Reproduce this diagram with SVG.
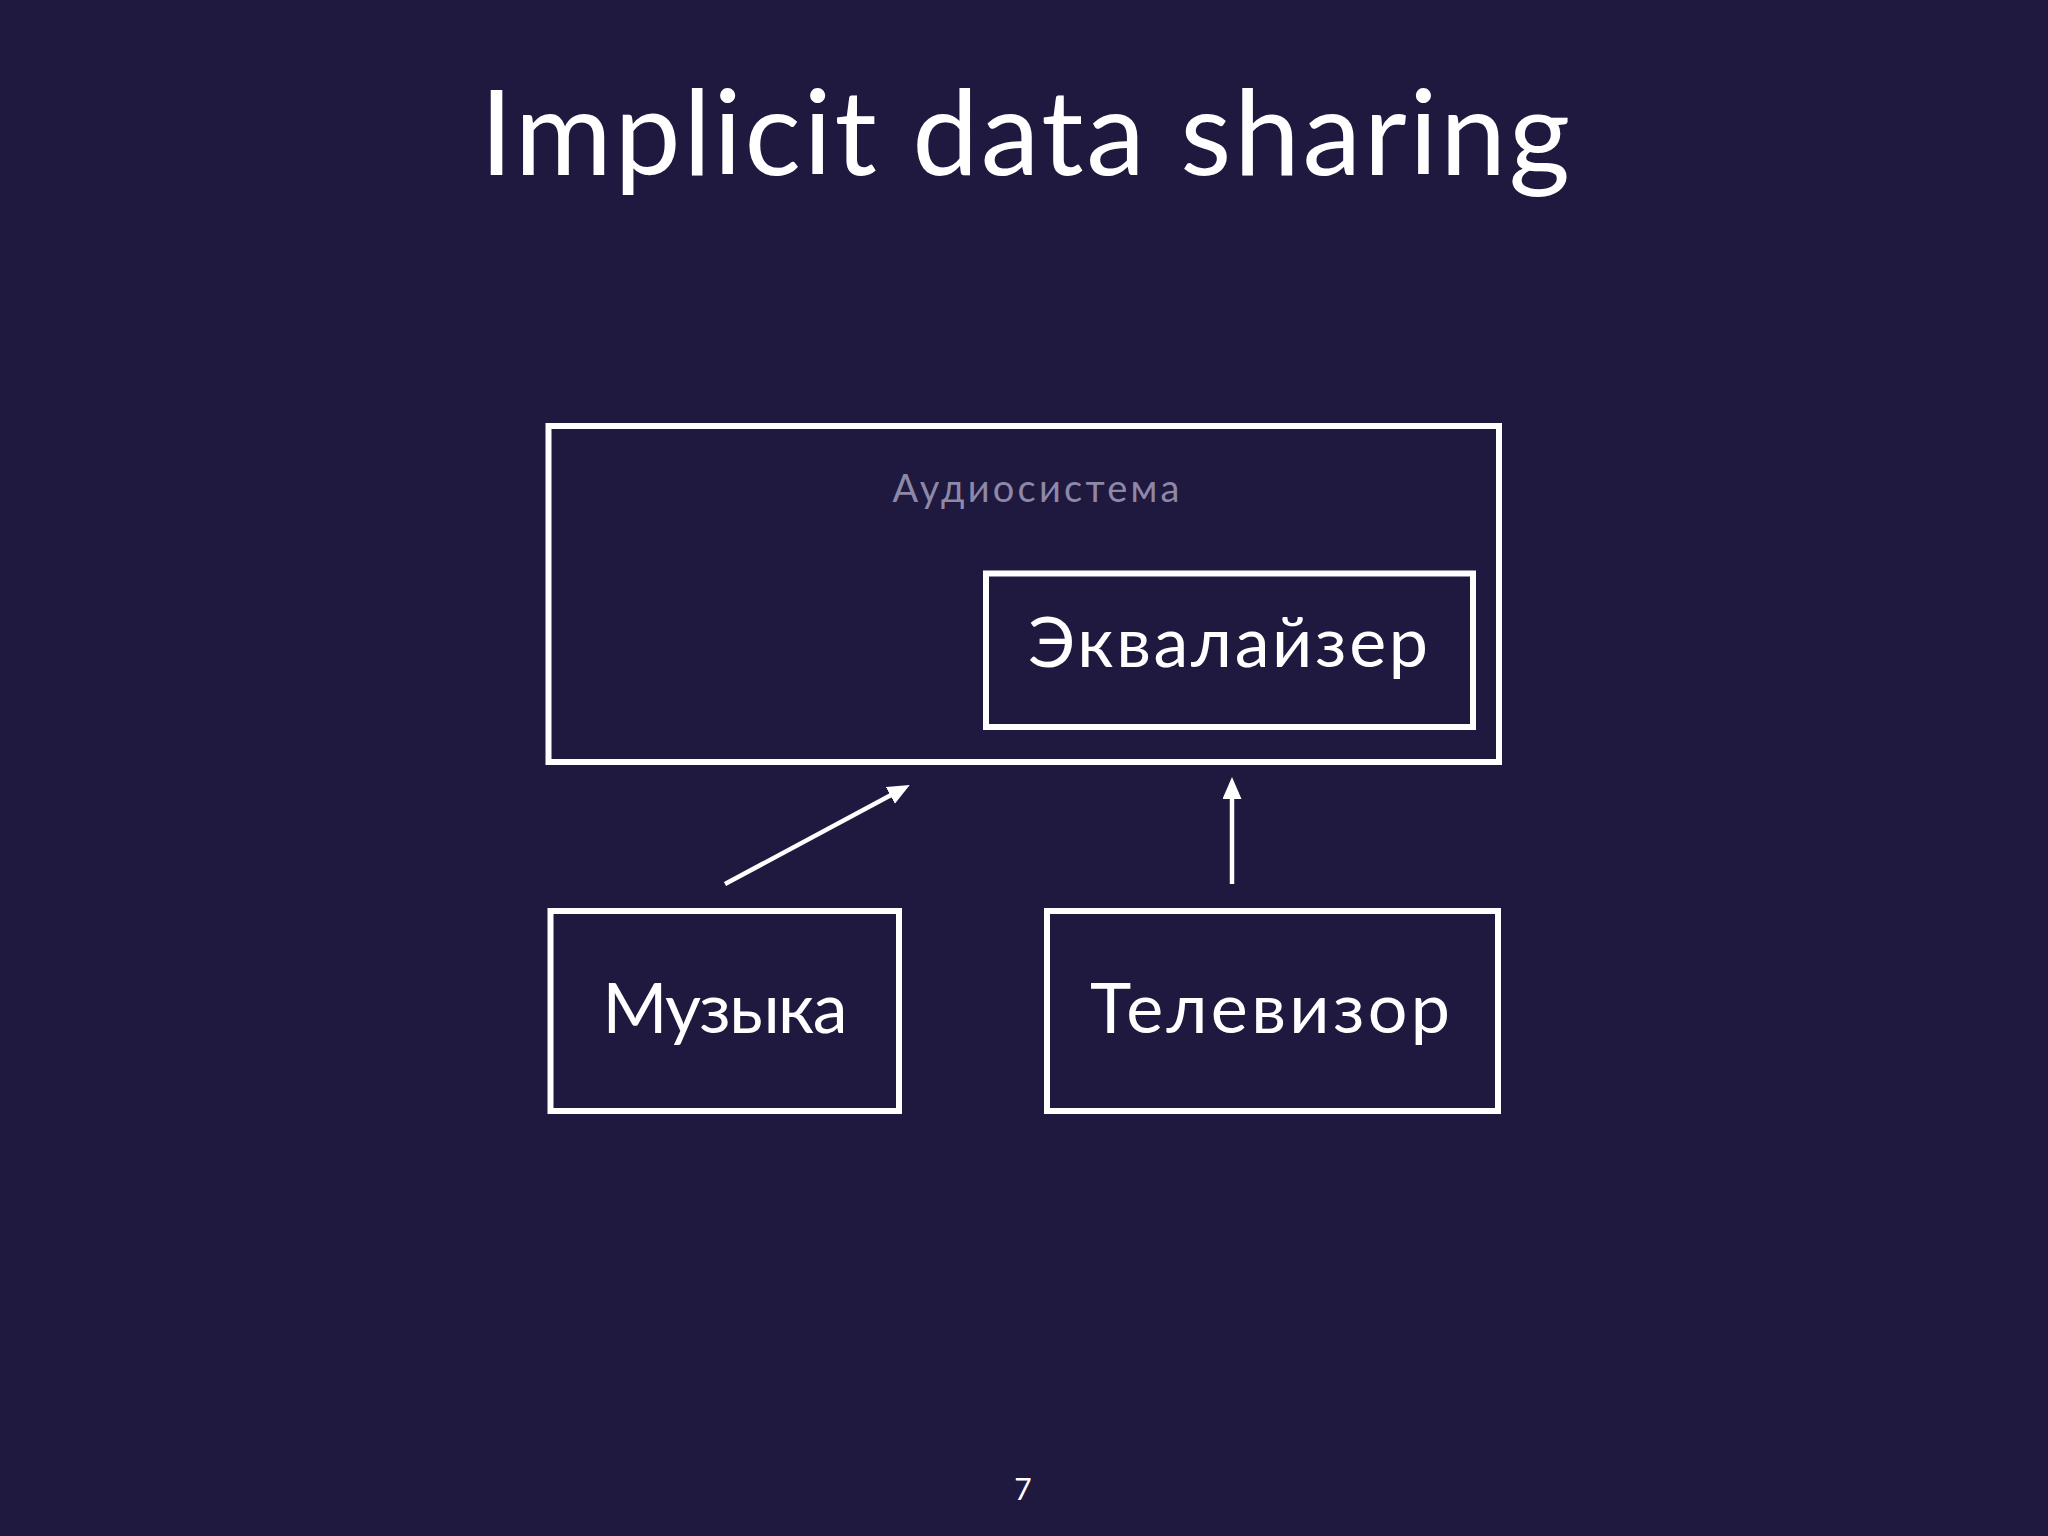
<svg xmlns="http://www.w3.org/2000/svg" width="2048" height="1536" viewBox="0 0 2048 1536">
  <style>
    .box { fill: none; stroke: #ffffff; stroke-width: 6; }
    .lbl { font-family: Lato, "Noto Sans", "DejaVu Sans", sans-serif; font-weight: 400; fill: #ffffff; text-anchor: middle; }
    .big { font-size: 70px; }
    .conn { stroke: #ffffff; stroke-width: 4.5; fill: none; }
  </style>
  <defs>
    <marker id="arrow" markerUnits="userSpaceOnUse" markerWidth="22" markerHeight="19" refX="4" refY="9.5" orient="auto" viewBox="0 0 22 19">
      <path d="M0,0 L22,9.5 L0,19 Z" fill="#ffffff"/>
    </marker>
  </defs>
  <rect x="0" y="0" width="2048" height="1536" fill="#1f183f"/>
  <text id="title" class="lbl" x="1025" y="175" font-size="118" textLength="1090" lengthAdjust="spacing">Implicit data sharing</text>

  <g id="audiosystem">
    <rect class="box" x="548.5" y="426" width="950.5" height="336"/>
    <text class="lbl" x="1036" y="502" font-size="38" style="fill:#8d88a8" textLength="287" lengthAdjust="spacing">Аудиосистема</text>
  </g>
  <g id="equalizer">
    <rect class="box" x="986" y="573.5" width="487" height="153.5"/>
    <text class="lbl big" x="1228" y="667" textLength="400" lengthAdjust="spacing">Эквалайзер</text>
  </g>
  <g id="music">
    <rect class="box" x="550.5" y="911" width="348.5" height="200"/>
    <text class="lbl big" x="725" y="1033" textLength="245" lengthAdjust="spacing">Музыка</text>
  </g>
  <g id="tv">
    <rect class="box" x="1047" y="911" width="451" height="200"/>
    <text class="lbl big" x="1270" y="1033" textLength="360" lengthAdjust="spacing">Телевизор</text>
  </g>

  <g id="connectors">
    <line class="conn" x1="725" y1="884" x2="893.9" y2="793.6" marker-end="url(#arrow)"/>
    <line class="conn" x1="1232" y1="884" x2="1232" y2="795" marker-end="url(#arrow)"/>
  </g>

  <text id="page" class="lbl" x="1023" y="1500" font-size="30">7</text>
</svg>
